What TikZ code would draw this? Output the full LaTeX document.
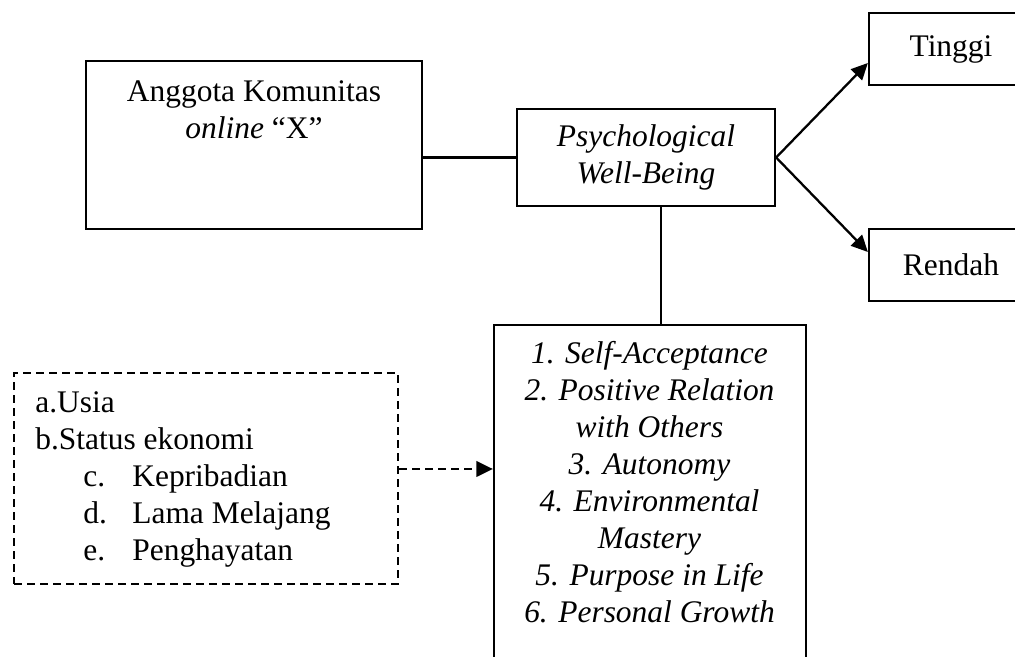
\documentclass[tikz,border=0pt]{standalone}
\usepackage{fontspec}
\setmainfont{Liberation Serif}
\usetikzlibrary{arrows.meta, positioning, calc}
\tikzset{
    box/.style={
        rectangle, draw=black, line width=1.3pt,
        inner sep=0pt, align=center,
        font=\fontsize{17.9}{21}\selectfont
    },
    factorbox/.style={
        rectangle, draw=black, line width=1.2pt,
        dash pattern=on 0.16cm off 0.1cm
    },
    boxtext/.style={inner sep=0pt, font=\fontsize{17.9}{21}\selectfont},
    link/.style={draw=black, line width=1.3pt},
    arrow/.style={draw=black, line width=1.3pt, -{Triangle[length=0.33cm, width=0.31cm]}},
    dashedarrow/.style={draw=black, line width=1.3pt, dash pattern=on 0.16cm off 0.1cm,
        -{Triangle[length=0.33cm, width=0.31cm]}}
}

\begin{document}
\begin{tikzpicture}
\useasboundingbox (0,0) rectangle (20.3,13.14);

% Top row
\node[box, minimum width=6.72cm, minimum height=3.36cm] (member) at (5.08,10.24) {};
\node[boxtext, align=center, anchor=north] (membertext) at (5.08,11.53) {Anggota Komunitas\\\textit{online} “X”};
\node[box, minimum width=5.16cm, minimum height=1.94cm, font=\fontsize{17.9}{21}\selectfont\itshape] (pwb) at (12.92,9.99) {Psychological\\Well-Being};

% Outcomes
\node[box, minimum width=3.28cm, minimum height=1.44cm] (tinggi) at (19.02,12.16) {Tinggi};
\node[box, minimum width=3.28cm, minimum height=1.44cm] (rendah) at (19.02,7.84) {Rendah};

% Dimensions
\node[box, minimum width=6.24cm, minimum height=7.5cm] (dims) at (13.0,2.89) {};
\node[boxtext, align=center, anchor=north, font=\fontsize{17.9}{21}\selectfont\itshape] (dimstext) at (12.99,6.31) {1. Self-Acceptance\\2. Positive Relation\\with Others\\3. Autonomy\\4. Environmental\\Mastery\\5. Purpose in Life\\6. Personal Growth};

% Factors
\node[factorbox, minimum width=7.68cm, minimum height=4.22cm] (factors) at (4.12,3.57) {};
\node[boxtext, align=left, anchor=north west] (factorstext) at (0.70,5.31) {a.Usia\\
b.Status ekonomi\\
\hspace*{0.96cm}\makebox[0.98cm][l]{c.}Kepribadian\\
\hspace*{0.96cm}\makebox[0.98cm][l]{d.}Lama Melajang\\
\hspace*{0.96cm}\makebox[0.98cm][l]{e.}Penghayatan};

% Connections
\draw[link] (member.east |- pwb.west) -- (pwb.west);
\draw[arrow] (pwb.east) -- ([yshift=-0.28cm]tinggi.west);
\draw[arrow] (pwb.east) -- ([yshift=0.26cm]rendah.west);
\draw[link] ([xshift=0.3cm]pwb.south) -- ([xshift=0.3cm]pwb.south |- dims.north);
\draw[dashedarrow] ([yshift=0.19cm]factors.east) -- ([yshift=0.19cm]factors.east -| dims.west);

\end{tikzpicture}
\end{document}
